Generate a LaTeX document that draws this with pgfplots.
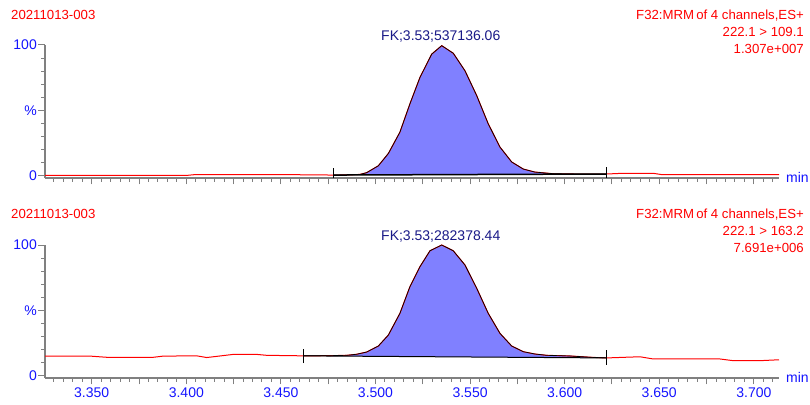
\documentclass[border=0pt]{standalone}
\usepackage{fontspec}
\setmainfont{Liberation Sans}
\usepackage{pgfplots}
\pgfplotsset{compat=1.18}

\definecolor{titlered}{RGB}{255,0,0}
\definecolor{tickblue}{RGB}{20,20,255}
\definecolor{labelnavy}{RGB}{25,25,135}
\definecolor{peakfill}{RGB}{128,128,255}
\definecolor{axisgray}{RGB}{128,128,128}

\newcommand{\tf}{\fontsize{14bp}{16bp}\selectfont}
\newcommand{\hf}{\fontsize{13.2bp}{16bp}\selectfont}

\pgfplotsset{chrom/.style={
    scale only axis,
    width=734bp, height=132.8bp,
    xmin=3.3253, xmax=3.7133,
    ymin=-1.6, ymax=100,
    axis lines=left,
    axis line style={-, draw=axisgray, line width=1.5bp},
    tick align=outside,
    major tick length=6.5bp,
    minor tick length=4bp,
    tick style={draw=axisgray, line width=1bp},
    xtick={3.35,3.375,3.4,3.425,3.45,3.475,3.5,3.525,3.55,3.575,3.6,3.625,3.65,3.675,3.7},
    minor xtick={3.330,3.335,...,3.711},
    ytick={0,50,100},
    yticklabels={0,\%,100},
    minor ytick={10,20,30,40,60,70,80,90},
    tick label style={font=\tf, text=tickblue},
    yticklabel style={inner sep=1.5bp},
    clip=false,
}}

\begin{document}
\begin{tikzpicture}
\useasboundingbox (0,0) rectangle (810bp,405bp);

% ---- top trace: 222.1 > 109.1
\begin{axis}[chrom, at={(45bp,227.2bp)}, anchor=south west, xticklabels={}]
% integrated area
\addplot[fill=peakfill, draw=none] coordinates {
    (3.4777,0.5) (3.4860,0.6) (3.4918,1.0) (3.4953,2.3) (3.5015,7.6) (3.5068,17.0)
    (3.5129,33.3) (3.5182,55.0) (3.5235,75.2) (3.5297,93.0) (3.5350,99.5) (3.5411,93.7)
    (3.5473,80.3) (3.5535,61.3) (3.5596,39.7) (3.5658,21.9) (3.5720,10.5) (3.5781,5.1)
    (3.5842,2.8) (3.5940,1.5) (3.6050,1.3) (3.6222,1.3)
};
% full chromatogram
\addplot[titlered, line width=1bp] coordinates {
    (3.3253,0.2) (3.3500,0.2) (3.3750,0.2) (3.4000,0.2) (3.4050,0.9) (3.4300,0.9)
    (3.4550,0.8) (3.4777,0.5)
    (3.4860,0.6) (3.4918,1.0) (3.4953,2.3) (3.5015,7.6) (3.5068,17.0)
    (3.5129,33.3) (3.5182,55.0) (3.5235,75.2) (3.5297,93.0) (3.5350,99.5) (3.5411,93.7)
    (3.5473,80.3) (3.5535,61.3) (3.5596,39.7) (3.5658,21.9) (3.5720,10.5) (3.5781,5.1)
    (3.5842,2.8) (3.5940,1.5) (3.6050,1.3) (3.6222,1.3)
    (3.6300,1.8) (3.6470,1.8) (3.6510,0.9) (3.7133,0.9)
};
\addplot[black, line width=0.7bp] coordinates {
    (3.4777,0.5) (3.4860,0.6) (3.4918,1.0) (3.4953,2.3) (3.5015,7.6) (3.5068,17.0)
    (3.5129,33.3) (3.5182,55.0) (3.5235,75.2) (3.5297,93.0) (3.5350,99.5) (3.5411,93.7)
    (3.5473,80.3) (3.5535,61.3) (3.5596,39.7) (3.5658,21.9) (3.5720,10.5) (3.5781,5.1)
    (3.5842,2.8) (3.5940,1.5) (3.6050,1.3) (3.6222,1.3)
};
% integration baseline and markers
\addplot[black, line width=1.5bp] coordinates {(3.4777,0.5) (3.6222,1.3)};
\addplot[black, line width=1bp] coordinates {(3.4777,-2) (3.4777,6)};
\addplot[black, line width=1bp] coordinates {(3.6222,-2) (3.6222,6.5)};
\node[anchor=base, inner sep=0, text=labelnavy, font=\tf, yshift=4bp] at (axis cs:3.5345,100) {FK;3.53;537136.06};
\node[anchor=base west, inner sep=0, text=tickblue, font=\tf, xshift=7bp, yshift=-4.5bp] at (rel axis cs:1,0) {min};
\end{axis}

% ---- bottom trace: 222.1 > 163.2
\begin{axis}[chrom, at={(45bp,27.2bp)}, anchor=south west,
    xticklabels={3.350,,3.400,,3.450,,3.500,,3.550,,3.600,,3.650,,3.700}]
\addplot[fill=peakfill, draw=none] coordinates {
    (3.4618,15.2) (3.4750,15.3) (3.4848,15.6) (3.4900,16.4) (3.4953,18.1) (3.5015,22.7)
    (3.5068,31.1) (3.5129,47.7) (3.5182,68.1) (3.5235,83.4) (3.5288,95.6) (3.5350,100)
    (3.5411,95.6) (3.5473,84.7) (3.5535,66.9) (3.5596,47.7) (3.5658,32.4) (3.5720,22.7)
    (3.5781,18.4) (3.5843,16.6) (3.5905,15.6) (3.6028,15.1) (3.6151,14.0) (3.6222,13.6)
};
\addplot[titlered, line width=1bp] coordinates {
    (3.3253,15.0) (3.3491,15.0) (3.3579,14.1) (3.3826,14.1) (3.3878,15.0) (3.4055,15.2)
    (3.4108,13.9) (3.4248,16.3) (3.4372,16.3) (3.4425,15.6) (3.4618,15.2)
    (3.4750,15.3) (3.4848,15.6) (3.4900,16.4) (3.4953,18.1) (3.5015,22.7)
    (3.5068,31.1) (3.5129,47.7) (3.5182,68.1) (3.5235,83.4) (3.5288,95.6) (3.5350,100)
    (3.5411,95.6) (3.5473,84.7) (3.5535,66.9) (3.5596,47.7) (3.5658,32.4) (3.5720,22.7)
    (3.5781,18.4) (3.5843,16.6) (3.5905,15.6) (3.6028,15.1) (3.6151,14.0) (3.6222,13.6)
    (3.6398,14.5) (3.6468,12.8) (3.6821,12.8) (3.6891,11.5) (3.7032,11.5) (3.7133,12.2)
};
\addplot[black, line width=0.7bp] coordinates {
    (3.4618,15.2) (3.4750,15.3) (3.4848,15.6) (3.4900,16.4) (3.4953,18.1) (3.5015,22.7)
    (3.5068,31.1) (3.5129,47.7) (3.5182,68.1) (3.5235,83.4) (3.5288,95.6) (3.5350,100)
    (3.5411,95.6) (3.5473,84.7) (3.5535,66.9) (3.5596,47.7) (3.5658,32.4) (3.5720,22.7)
    (3.5781,18.4) (3.5843,16.6) (3.5905,15.6) (3.6028,15.1) (3.6151,14.0) (3.6222,13.6)
};
\addplot[black, line width=1bp] coordinates {(3.4618,15.2) (3.6222,13.6)};
\addplot[black, line width=1bp] coordinates {(3.4618,9.7) (3.4618,20.4)};
\addplot[black, line width=1bp] coordinates {(3.6222,8.3) (3.6222,19.5)};
\node[anchor=base, inner sep=0, text=labelnavy, font=\tf, yshift=4.5bp] at (axis cs:3.5345,100) {FK;3.53;282378.44};
\node[anchor=base west, inner sep=0, text=tickblue, font=\tf, xshift=7bp, yshift=-4.5bp] at (rel axis cs:1,0) {min};
\end{axis}

% ---- header texts
\begin{scope}[every node/.style={inner sep=0, text=titlered, font=\hf}]
\node[anchor=base west] at (11bp,385bp) {20211013-003};
\node[anchor=base east] at (804bp,385bp) {F32:MRM\hspace{-1.5bp} of 4 channels,ES+};
\node[anchor=base east] at (804bp,368.3bp) {222.1 > 109.1};
\node[anchor=base east] at (804bp,351.7bp) {1.307e+007};
\node[anchor=base west] at (11bp,186bp) {20211013-003};
\node[anchor=base east] at (804bp,186bp) {F32:MRM\hspace{-1.5bp} of 4 channels,ES+};
\node[anchor=base east] at (804bp,169.3bp) {222.1 > 163.2};
\node[anchor=base east] at (804bp,152.7bp) {7.691e+006};
\end{scope}
\end{tikzpicture}
\end{document}
